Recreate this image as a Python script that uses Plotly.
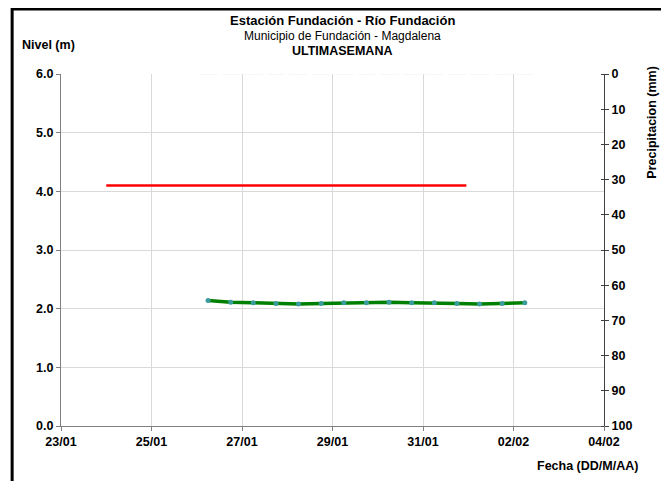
import plotly.graph_objects as go

# nivel del rio, lecturas cada 12 h
fechas_nivel = ["2014-01-26 06:00", "2014-01-26 18:00", "2014-01-27 06:00", "2014-01-27 18:00",
                "2014-01-28 06:00", "2014-01-28 18:00", "2014-01-29 06:00", "2014-01-29 18:00",
                "2014-01-30 06:00", "2014-01-30 18:00", "2014-01-31 06:00", "2014-01-31 18:00",
                "2014-02-01 06:00", "2014-02-01 18:00", "2014-02-02 06:00"]
nivel = [2.14, 2.11, 2.10, 2.09, 2.08, 2.09, 2.10, 2.10, 2.11, 2.10, 2.10, 2.09, 2.08, 2.09, 2.10]

# umbral de alerta
fechas_umbral = ["2014-01-24 00:00", "2014-01-31 23:00"]
umbral = [4.1, 4.1]

# precipitacion (sin registros en la semana)
fechas_precip = fechas_nivel
precip = [0] * len(fechas_nivel)

FONT = "Liberation Sans, Arial, sans-serif"

fig = go.Figure()
fig.add_trace(go.Bar(x=fechas_precip, y=precip, yaxis="y2", marker_color="#4f81bd",
                     showlegend=False, hoverinfo="skip"))
fig.add_trace(go.Scatter(x=fechas_umbral, y=umbral, mode="lines",
                         line=dict(color="#ff0000", width=2.5), showlegend=False))
fig.add_trace(go.Scatter(x=fechas_nivel, y=nivel, mode="lines+markers",
                         line=dict(color="#008000", width=3.5),
                         marker=dict(color="#3a9c9c", size=5), showlegend=False))

fig.update_layout(
    width=661, height=473,
    margin=dict(l=53, r=65, t=66, b=55),
    paper_bgcolor="white", plot_bgcolor="white",
    font=dict(family=FONT, color="black", size=12),
    xaxis=dict(type="date", range=["2014-01-23", "2014-02-04"], dtick=2 * 86400000,
               tick0="2014-01-23", tickformat="%d/%m", showgrid=True, gridcolor="#d9d9d9",
               gridwidth=1, showline=True, linecolor="#808080", linewidth=1,
               ticks="outside", ticklen=4, tickcolor="#808080",
               tickfont=dict(size=12.5, weight="bold"), zeroline=False),
    yaxis=dict(range=[0, 6], dtick=1, tickformat=".1f", showgrid=True, gridcolor="#d9d9d9",
               showline=True, linecolor="#808080", linewidth=1, ticks="outside", ticklen=4,
               tickcolor="#808080", tickfont=dict(size=12.5, weight="bold"), zeroline=False),
    yaxis2=dict(range=[100, 0], dtick=10, overlaying="y", side="right", showgrid=False,
                showline=True, linecolor="#404040", linewidth=1, ticks="outside", ticklen=4,
                tickcolor="#404040", tickfont=dict(size=12.5, weight="bold"), zeroline=False,
                minor=dict(dtick=10, ticks="inside", ticklen=3, tickcolor="#404040",
                           showgrid=False)),
    shapes=[dict(type="rect", xref="paper", yref="paper", x0=-0.090, x1=1.112,
                 y0=-0.25, y1=1.185, line=dict(color="black", width=3), layer="below")],
    annotations=[
        dict(text="<b>Estación Fundación - Río Fundación</b>", x=0.5175, y=1.153,
             xanchor="center", yanchor="middle",
             xref="paper", yref="paper", showarrow=False, font=dict(size=13)),
        dict(text="Municipio de Fundación - Magdalena", x=0.5175, y=1.108,
             xanchor="center", yanchor="middle",
             xref="paper", yref="paper", showarrow=False, font=dict(size=12)),
        dict(text="<b>ULTIMASEMANA</b>", x=0.5175, y=1.065,
             xanchor="center", yanchor="middle",
             xref="paper", yref="paper", showarrow=False, font=dict(size=12.5)),
        dict(text="<b>Nivel (m)</b>", x=-0.0755, y=1.082, xanchor="left", yanchor="middle",
             xref="paper", yref="paper", showarrow=False, font=dict(size=12.5)),
        dict(text="<b>Precipitacion (mm)</b>", x=1.088, y=0.864, textangle=-90,
             xanchor="center", yanchor="middle",
             xref="paper", yref="paper", showarrow=False, font=dict(size=12.5)),
        dict(text="<b>Fecha (DD/M/AA)</b>", x=1.066, y=-0.1136, xanchor="right",
             yanchor="middle",
             xref="paper", yref="paper", showarrow=False, font=dict(size=12.5)),
    ],
)

fig.write_html("out.html")
